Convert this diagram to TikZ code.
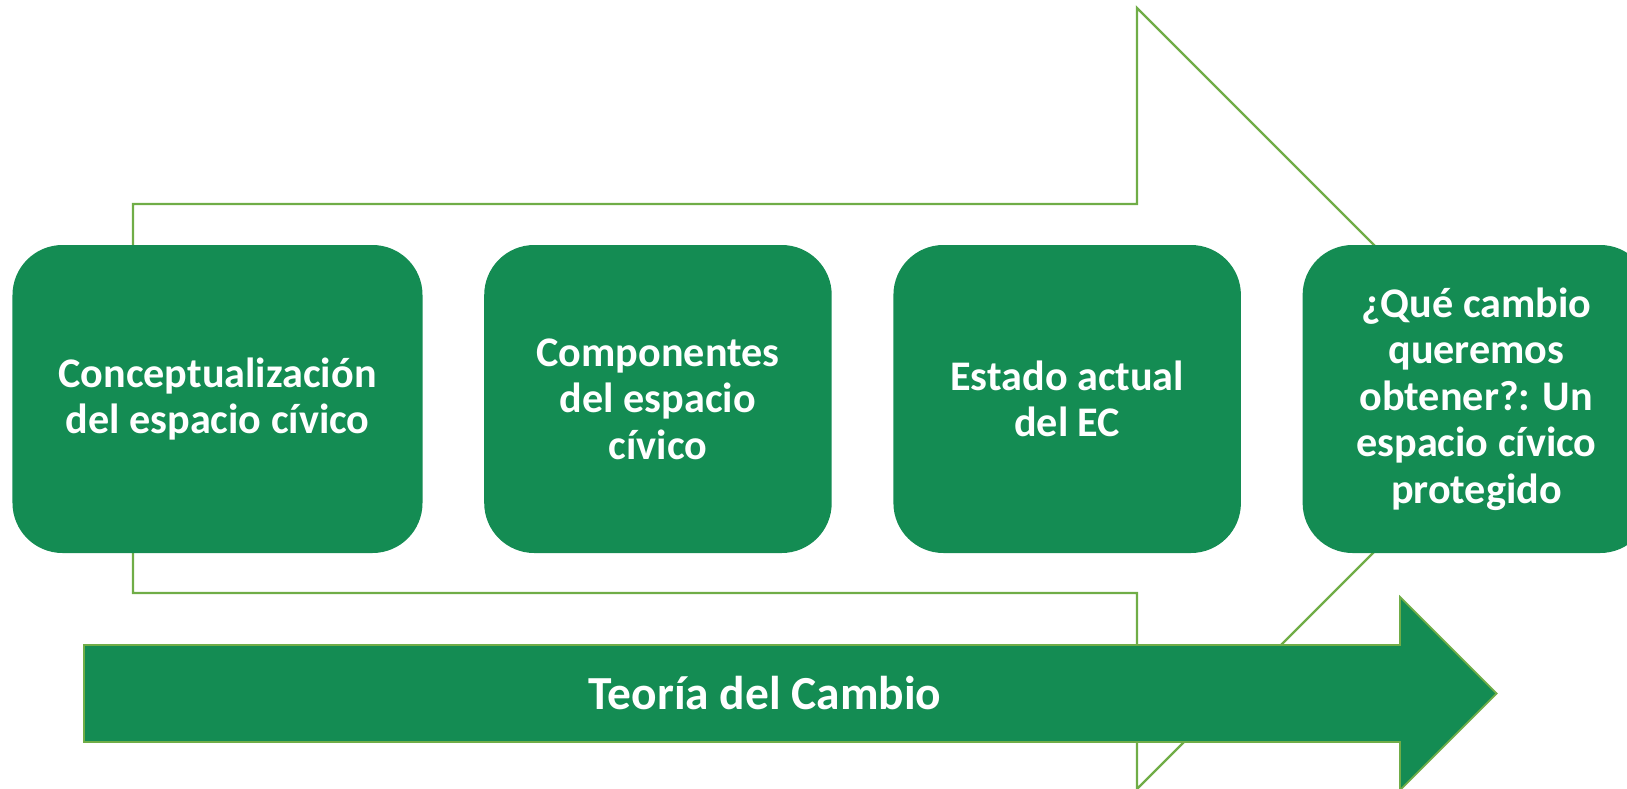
\documentclass[tikz,border=0pt]{standalone}
\usepackage{fontspec}
\setmainfont{Carlito}
\usetikzlibrary{positioning}
\definecolor{boxgreen}{RGB}{20,140,83}
\definecolor{linegreen}{RGB}{112,173,71}
\tikzset{
	stage/.style={rounded corners=10mm, fill=boxgreen, text=white,
		font=\bfseries\fontsize{24}{26.5}\selectfont, align=center,
		minimum height=61.6mm, minimum width=69.5mm, inner sep=0pt},
	outline/.style={draw=linegreen, line width=1.3pt}
}
\begin{document}
\begin{tikzpicture}[x=0.2mm,y=-0.2mm]
	\useasboundingbox (0,0) rectangle (1627,789);
	
	% large open arrow behind the stages
	\draw[outline]
	(133,204) -- (1137,204) -- (1137,8) -- (1527.5,398.5)
	-- (1137,789) -- (1137,593) -- (133,593) -- cycle;
	
	\node[stage, minimum width=82mm] (concepto) at (217.5,399)
	{Conceptualización\\del espacio cívico};
	\node[stage, right=12.2mm of concepto] (componentes)
	{Componentes\\del espacio\\cívico};
	\node[stage, right=12.2mm of componentes] (estado)
	{Estado actual\\del EC};
	\node[stage, right=12.2mm of estado] (cambio)
	{¿Qué cambio\\queremos\\obtener?: Un\\espacio cívico\\protegido};
	
	% filled arrow at the bottom
	\draw[outline, line width=1pt, fill=boxgreen]
	(84,645) -- (1400,645) -- (1400,597) -- (1496.5,693.5)
	-- (1400,790) -- (1400,742) -- (84,742) -- cycle;
	\node[text=white, font=\bfseries\fontsize{27}{30}\selectfont] (teoria)
	at (765,693) {Teoría del Cambio};
	
\end{tikzpicture}
\end{document}
